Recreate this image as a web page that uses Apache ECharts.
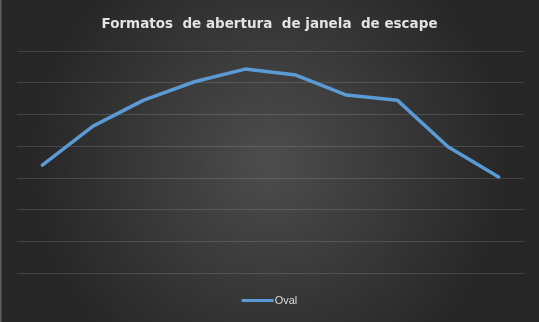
<!DOCTYPE html>
<html>
<head>
<meta charset="utf-8">
<script src="https://cdn.jsdelivr.net/npm/echarts@6/dist/echarts.min.js"></script>
<style>
  html, body { margin: 0; padding: 0; background: #2b2b2b; }
  #chart { width: 539px; height: 322px; }
</style>
</head>
<body>
<div id="chart"></div>
<script>
// Window-opening formats: one category per measurement position
const categories = ['1', '2', '3', '4', '5', '6', '7', '8', '9', '10'];
const ovalValues = [34, 46.3, 54.5, 60.3, 64.3, 62.4, 56.1, 54.5, 39.8, 30.3];
const seriesName = 'Oval';
const titleText = 'Formatos  de abertura  de janela  de escape';

const chart = echarts.init(document.getElementById('chart'), null, { renderer: 'canvas' });

chart.setOption({
  backgroundColor: {
    type: 'radial', x: 0.5, y: 0.5, r: 0.75,
    colorStops: [
      { offset: 0, color: '#4d4d4d' },
      { offset: 1, color: '#262626' }
    ]
  },
  graphic: [{
    type: 'rect',
    left: 0, top: 0,
    shape: { width: 1.5, height: 322 },
    style: { fill: '#5e5e5e' },
    silent: true
  }],
  title: {
    text: titleText,
    left: 'center',
    top: 12,
    textStyle: {
      color: '#e3e3e3',
      fontFamily: 'DejaVu Sans',
      fontWeight: 'bold',
      fontSize: 13.5
    }
  },
  legend: {
    bottom: 11,
    left: 'center',
    itemWidth: 32,
    itemHeight: 3,
    itemGap: 4,
    icon: 'rect',
    textStyle: { color: '#d9d9d9', fontFamily: 'Liberation Sans', fontSize: 11, padding: [0, 0, 0, -4] },
    data: [seriesName]
  },
  grid: { left: 17, right: 15, top: 51, bottom: 49, containLabel: false },
  xAxis: {
    type: 'category',
    data: categories,
    boundaryGap: true,
    axisLine: { show: false },
    axisTick: { show: false },
    axisLabel: { show: false }
  },
  yAxis: {
    type: 'value',
    min: 0,
    max: 70,
    interval: 10,
    axisLine: { show: false },
    axisTick: { show: false },
    axisLabel: { show: false },
    splitLine: { lineStyle: { color: 'rgba(255,255,255,0.13)', width: 1 } }
  },
  series: [{
    name: seriesName,
    type: 'line',
    data: ovalValues,
    symbol: 'none',
    lineStyle: { color: '#5b9bd5', width: 3.5, cap: 'round', join: 'round' },
    itemStyle: { color: '#5b9bd5' }
  }]
});
</script>
</body>
</html>
